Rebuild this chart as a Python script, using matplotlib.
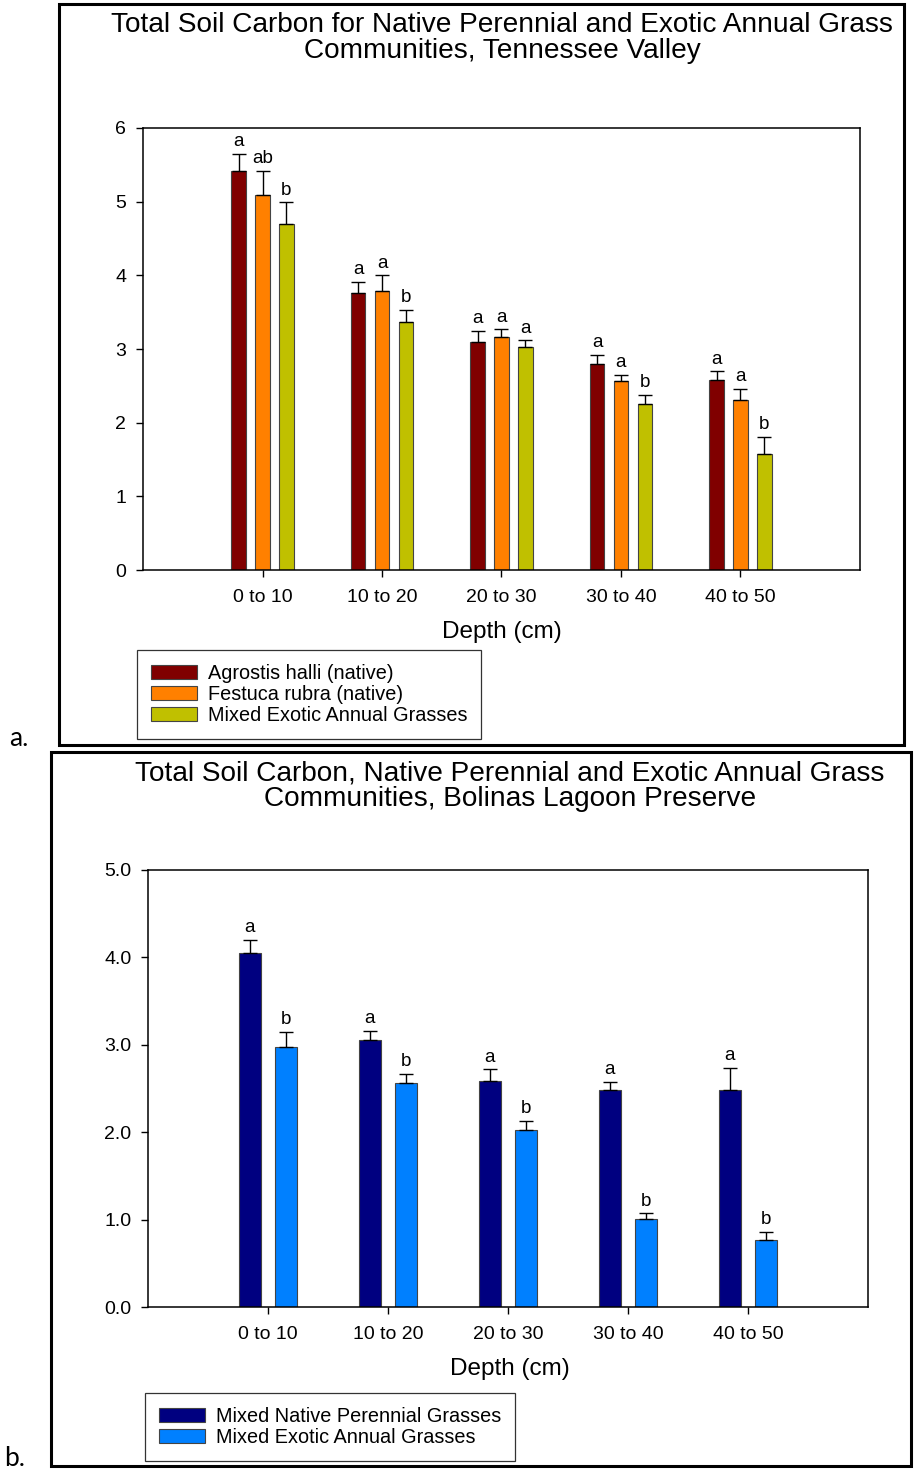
"""
Total soil carbon by depth for native and exotic grass communities,
two sites stacked as panels a. and b.
"""

import numpy as np
import matplotlib
matplotlib.use('Agg')
import matplotlib.pyplot as plt
from matplotlib.patches import Rectangle

plt.rcParams['font.family'] = ['Liberation Sans', 'DejaVu Sans']

# ── Data ───────────────────────────────────────────────────────────────────────
DEPTHS = ['0 to 10', '10 to 20', '20 to 30', '30 to 40', '40 to 50']

# panel a: Tennessee Valley
TV_SERIES  = ['Agrostis halli (native)', 'Festuca rubra (native)',
              'Mixed Exotic Annual Grasses']
TV_AGROSTIS     = [5.42, 3.76, 3.09, 2.79, 2.58]
TV_AGROSTIS_SE  = [0.23, 0.15, 0.16, 0.13, 0.12]
TV_FESTUCA      = [5.09, 3.79, 3.16, 2.56, 2.31]
TV_FESTUCA_SE   = [0.33, 0.21, 0.11, 0.09, 0.15]
TV_EXOTIC       = [4.70, 3.37, 3.03, 2.26, 1.58]
TV_EXOTIC_SE    = [0.29, 0.16, 0.09, 0.12, 0.23]
TV_LETTERS = [['a', 'a', 'a', 'a', 'a'],
              ['ab', 'a', 'a', 'a', 'a'],
              ['b', 'b', 'a', 'b', 'b']]

# panel b: Bolinas Lagoon Preserve
BL_SERIES = ['Mixed Native Perennial Grasses', 'Mixed Exotic Annual Grasses']
BL_NATIVE     = [4.05, 3.05, 2.59, 2.48, 2.48]
BL_NATIVE_SE  = [0.15, 0.11, 0.13, 0.10, 0.26]
BL_EXOTIC     = [2.98, 2.56, 2.03, 1.01, 0.77]
BL_EXOTIC_SE  = [0.17, 0.11, 0.10, 0.06, 0.09]
BL_LETTERS = [['a', 'a', 'a', 'a', 'a'],
              ['b', 'b', 'b', 'b', 'b']]

TV_COLORS = ['#800000', '#FF8000', '#C0C000']
BL_COLORS = ['#000080', '#0080FF']

W, H = 916, 1479
fig = plt.figure(figsize=(W / 100, H / 100), dpi=100)


def fx(px):
    return px / W


def fy(py):
    return 1 - py / H


def frame(x0, y0, x1, y1):
    fig.patches.append(Rectangle((fx(x0), fy(y1)), fx(x1) - fx(x0),
                                 fy(y0) - fy(y1), transform=fig.transFigure,
                                 fill=False, edgecolor='black', lw=2.2))


def bar_panel(ax, values, errors, letters, colors, labels, width, offsets):
    x = np.arange(len(DEPTHS))
    for vals, errs, lets, col, lab, off in zip(values, errors, letters,
                                                colors, labels, offsets):
        ax.bar(x + off, vals, width, color=col, edgecolor='#444444',
               linewidth=0.8, label=lab, zorder=2)
        ax.errorbar(x + off, vals, yerr=[np.zeros(len(vals)), errs],
                    fmt='none', ecolor='black', elinewidth=1.0,
                    capsize=5, capthick=1.0, zorder=3)
        for xi, v, e, t in zip(x + off, vals, errs, lets):
            ax.annotate(t, (xi, v + e), xytext=(0, 2.5),
                        textcoords='offset points', ha='center', va='bottom',
                        fontsize=13.5)
    ax.set_xlim(-1, 5)
    ax.set_xticks(x)
    ax.set_xticklabels(DEPTHS)
    ax.tick_params(direction='out', length=5, width=1, labelsize=14)
    ax.tick_params(axis='x', pad=9)
    ax.tick_params(axis='y', pad=7)
    for s in ax.spines.values():
        s.set_linewidth(1.1)


def panel_legend(ax, x0, y0):
    leg = ax.legend(loc='upper left', bbox_to_anchor=(fx(x0), fy(y0)),
                    bbox_transform=fig.transFigure, borderaxespad=0,
                    fancybox=False, edgecolor='#333333', framealpha=1,
                    fontsize=14.3, handlelength=2.3, handleheight=0.7,
                    labelspacing=0.1, borderpad=0.7, handletextpad=0.55)
    leg.get_frame().set_linewidth(0.9)


# ── Panel a ────────────────────────────────────────────────────────────────────
frame(59, 4, 904, 745)
fig.text(fx(502), fy(38), 'Total Soil Carbon for Native Perennial and Exotic Annual Grass\n'
         'Communities, Tennessee Valley', ha='center', va='center',
         fontsize=20.2, linespacing=1.0)

ax1 = fig.add_axes([fx(143), fy(570), fx(860) - fx(143), fy(128) - fy(570)])
bar_panel(ax1, [TV_AGROSTIS, TV_FESTUCA, TV_EXOTIC],
          [TV_AGROSTIS_SE, TV_FESTUCA_SE, TV_EXOTIC_SE],
          TV_LETTERS, TV_COLORS, TV_SERIES, 0.123, [-0.2, 0.0, 0.2])
ax1.set_ylim(0, 6)
ax1.set_yticks(range(0, 7))
fig.text(fx(502), fy(632), 'Depth (cm)', ha='center', va='center',
         fontsize=17.5)
panel_legend(ax1, 137, 650)
fig.text(fx(9), fy(738), 'a.', ha='left', va='center', fontsize=19,
         family=['Lato', 'DejaVu Sans'])

# ── Panel b ────────────────────────────────────────────────────────────────────
frame(51, 752, 911, 1466)
fig.text(fx(510), fy(786), 'Total Soil Carbon, Native Perennial and Exotic Annual Grass\n'
         'Communities, Bolinas Lagoon Preserve', ha='center', va='center',
         fontsize=20.2, linespacing=1.0)

ax2 = fig.add_axes([fx(148), fy(1307), fx(868) - fx(148), fy(870) - fy(1307)])
bar_panel(ax2, [BL_NATIVE, BL_EXOTIC], [BL_NATIVE_SE, BL_EXOTIC_SE],
          BL_LETTERS, BL_COLORS, BL_SERIES, 0.184, [-0.153, 0.153])
ax2.set_ylim(0, 5)
ax2.set_yticks(np.arange(0, 5.01, 1.0))
ax2.set_yticklabels([f'{v:.1f}' for v in np.arange(0, 5.01, 1.0)])
fig.text(fx(510), fy(1369), 'Depth (cm)', ha='center', va='center',
         fontsize=17.5)
panel_legend(ax2, 145, 1393)
fig.text(fx(4), fy(1458), 'b.', ha='left', va='center', fontsize=19,
         family=['Lato', 'DejaVu Sans'])

fig.savefig('out.png', dpi=100)
